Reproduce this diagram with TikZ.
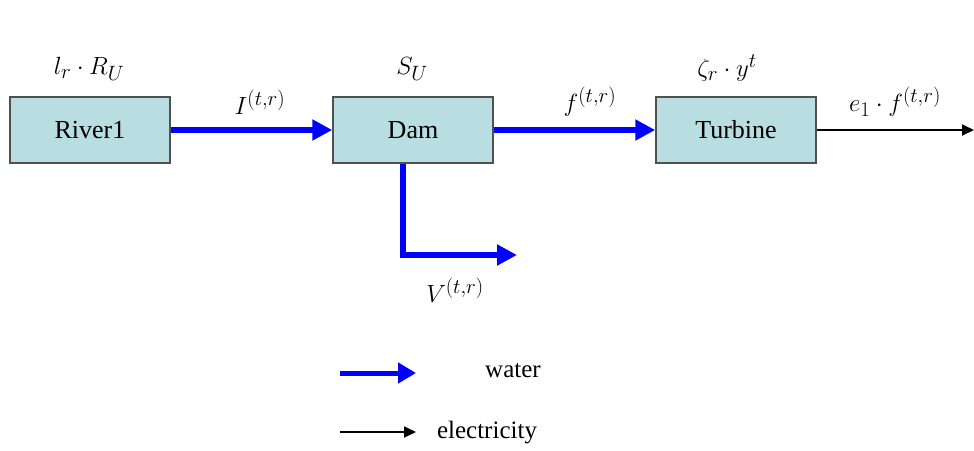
\documentclass[tikz,border=0pt]{standalone}
\usepackage{fontspec}
\setmainfont{Liberation Serif}
\usetikzlibrary{arrows.meta}
\definecolor{boxfill}{RGB}{184,222,226}
\definecolor{boxline}{RGB}{80,80,80}
\tikzset{
  blk/.style={draw=boxline, line width=1.5pt, fill=boxfill, minimum width=160pt, minimum height=66pt, inner sep=0pt, font=\fontsize{26}{30}\selectfont},
  water/.style={draw=blue, line width=6pt, -{Triangle[length=20pt,width=20pt]}},
  elec/.style={draw=black, line width=1.8pt, -{Triangle[length=12pt,width=11pt]}},
  lbl/.style={font=\fontsize{28}{32}\selectfont, inner sep=0pt},
  leg/.style={font=\fontsize{25}{29}\selectfont, inner sep=0pt}
}
\begin{document}
\begin{tikzpicture}[x=1pt,y=-1pt]
\useasboundingbox (0,0) rectangle (974,450);
\node[blk] (river) at (90,130) {River1};
\node[blk] (dam) at (413,130) {Dam};
\node[blk] (turb) at (736,130) {Turbine};
\coordinate (eout) at (974,130);
\coordinate (vbend) at (403,255);
\coordinate (vend) at (517,255);
\draw[water] (river.east) -- (dam.west);
\draw[water] (dam.east) -- (turb.west);
\draw[elec] (turb.east) -- (eout);
\draw[water] (dam.south -| vbend) -- (vbend) -- (vend);
\node[lbl] (lr) at (89,69) {$l_r\cdot R_U$};
\node[lbl] (su) at (412,69) {$S_U$};
\node[lbl] (zr) at (727,68) {$\zeta_r\cdot y^t$};
\node[lbl] (il) at (260,102) {$I^{(t,r)}$};
\node[lbl] (fl) at (590,102) {$f^{(t,r)}$};
\node[lbl] (el) at (895,102) {$e_1\cdot f^{(t,r)}$};
\node[lbl] (vl) at (455,290) {$V^{(t,r)}$};
\coordinate (w1) at (340,373);
\coordinate (w2) at (416,373);
\coordinate (e1) at (340,432);
\coordinate (e2) at (416,432);
\draw[water, line width=5pt, -{Triangle[length=18pt,width=20pt]}] (w1) -- (w2);
\draw[elec] (e1) -- (e2);
\node[leg] (wt) at (513,371) {water};
\node[leg] (et) at (487,433) {electricity};
\end{tikzpicture}
\end{document}
